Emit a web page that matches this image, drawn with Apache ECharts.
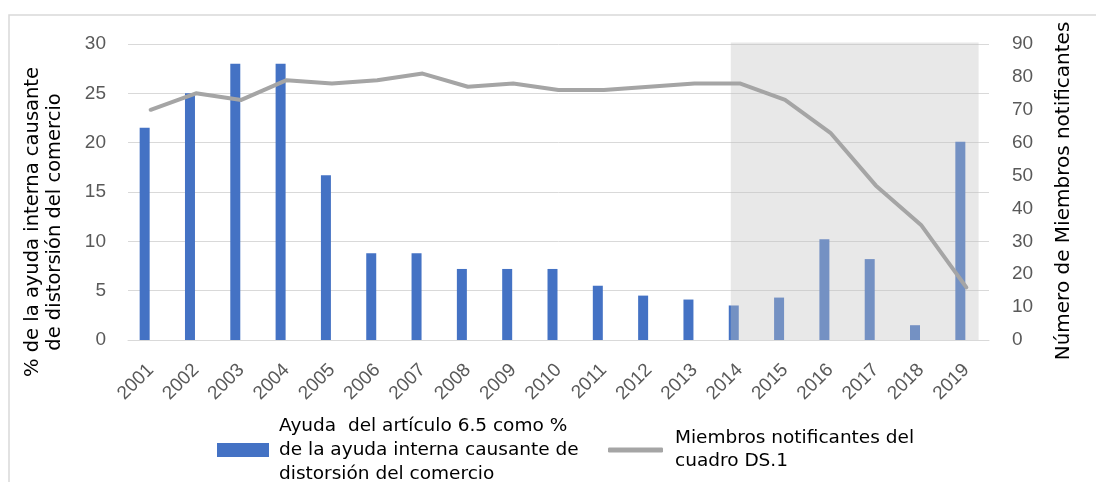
<!DOCTYPE html>
<html>
<head>
<meta charset="utf-8">
<script src="https://cdn.jsdelivr.net/npm/echarts@6/dist/echarts.min.js"></script>
<style>
  html, body { margin: 0; padding: 0; background: #ffffff; }
  #chart { width: 1096px; height: 482px; }
</style>
</head>
<body>
<div id="chart"></div>
<script>
// ---- data ----
const years = ['2001','2002','2003','2004','2005','2006','2007','2008','2009','2010',
               '2011','2012','2013','2014','2015','2016','2017','2018','2019'];
const ayudaPct = [21.5, 25, 28, 28, 16.7, 8.8, 8.8, 7.2, 7.2, 7.2,
                  5.5, 4.5, 4.1, 3.5, 4.3, 10.2, 8.2, 1.5, 20.1];
const miembros = [70, 75, 73, 79, 78, 79, 81, 77, 78, 76,
                  76, 77, 78, 78, 73, 63, 47, 35, 16];
const leftTicks = { min: 0, max: 30, interval: 5 };
const rightTicks = { min: 0, max: 90, interval: 10 };
const shadedFrom = '2014';
const shadedTo = '2019';
const barName = 'Ayuda  del artículo 6.5 como %\nde la ayuda interna causante de\ndistorsión del comercio';
const lineName = 'Miembros notificantes del\ncuadro DS.1';
const leftTitle = '% de la ayuda interna causante\nde distorsión del comercio';
const rightTitle = 'Número de Miembros notificantes';

// ---- chart ----
const chart = echarts.init(document.getElementById('chart'), null, { renderer: 'canvas' });
const tickFont = { color: '#595959', fontFamily: 'Liberation Sans', fontSize: 19 };
const titleFont = 'DejaVu Sans';

const option = {
  animation: false,
  backgroundColor: '#ffffff',
  grid: { left: 128, right: 107, top: 44, bottom: 142, containLabel: false },
  legend: [
    {
      data: [{ name: barName, icon: 'rect' }],
      left: 217, top: 406, padding: 0,
      itemWidth: 52, itemHeight: 14,
      selectedMode: false,
      textStyle: { fontFamily: titleFont, fontSize: 18.5, color: '#000000', lineHeight: 24, padding: [16, 0, 0, 5] }
    },
    {
      data: [{ name: lineName, icon: 'roundRect' }],
      left: 608, top: 427, padding: 0,
      itemWidth: 55, itemHeight: 5,
      selectedMode: false,
      textStyle: { fontFamily: titleFont, fontSize: 18.5, color: '#000000', lineHeight: 23, padding: [0, 0, 0, 7] }
    }
  ],
  xAxis: {
    type: 'category',
    data: years,
    boundaryGap: true,
    axisLine: { show: true, lineStyle: { color: '#D9D9D9', width: 1 } },
    axisTick: { show: false },
    axisLabel: Object.assign({ rotate: 45, margin: 27, interval: 0 }, tickFont),
    splitLine: { show: false }
  },
  yAxis: [
    {
      type: 'value',
      min: leftTicks.min, max: leftTicks.max, interval: leftTicks.interval,
      axisLine: { show: false }, axisTick: { show: false },
      axisLabel: Object.assign({ margin: 22 }, tickFont),
      splitLine: { show: true, lineStyle: { color: '#D9D9D9', width: 1 } }
    },
    {
      type: 'value',
      min: rightTicks.min, max: rightTicks.max, interval: rightTicks.interval,
      position: 'right',
      axisLine: { show: false }, axisTick: { show: false },
      axisLabel: Object.assign({ margin: 23 }, tickFont),
      splitLine: { show: false }
    }
  ],
  series: [
    {
      name: barName,
      type: 'bar',
      yAxisIndex: 0,
      data: ayudaPct,
      barWidth: 10,
      barGap: '20%',
      itemStyle: { color: '#4472C4' },
      z: 2
    },
    {
      // empty companion slot (keeps the bars shifted left of the category centre as in the original)
      name: '_slot',
      type: 'bar',
      yAxisIndex: 0,
      data: [],
      barWidth: 10,
      barGap: '20%',
      z: 2
    },
    {
      name: lineName,
      type: 'line',
      yAxisIndex: 1,
      data: miembros,
      symbol: 'none',
      showSymbol: false,
      lineStyle: { color: '#A5A5A5', width: 4, cap: 'round', join: 'round' },
      itemStyle: { color: '#A5A5A5' },
      z: 10
    }
  ],
  graphic: [
    {
      id: 'frame', type: 'rect', silent: true, z: 0,
      shape: { x: 9, y: 15, width: 1200, height: 600 },
      style: { fill: 'none', stroke: '#D9D9D9', lineWidth: 1.5 }
    },
    {
      id: 'leftTitle', type: 'text', silent: true,
      x: 44, y: 222, rotation: Math.PI / 2,
      style: {
        text: leftTitle, fontFamily: titleFont, fontSize: 19.5, lineHeight: 22,
        fill: '#000000', align: 'center', verticalAlign: 'middle'
      }
    },
    {
      id: 'rightTitle', type: 'text', silent: true,
      x: 1064, y: 191, rotation: Math.PI / 2,
      style: {
        text: rightTitle, fontFamily: titleFont, fontSize: 20,
        fill: '#000000', align: 'center', verticalAlign: 'middle'
      }
    }
  ]
};
chart.setOption(option);

// shaded (semi-transparent) region over the later years
const xa = chart.convertToPixel({ xAxisIndex: 0 }, shadedFrom);
const xb = chart.convertToPixel({ xAxisIndex: 0 }, shadedTo);
const yTop = chart.convertToPixel({ yAxisIndex: 0 }, leftTicks.max);
const yBot = chart.convertToPixel({ yAxisIndex: 0 }, leftTicks.min);
chart.setOption({
  graphic: [
    {
      id: 'shade', type: 'rect', silent: true, z: 5,
      shape: { x: xa - 9, y: yTop - 1.5, width: (xb + 12.3) - (xa - 9), height: yBot - yTop + 1.5 },
      style: { fill: 'rgba(195,195,195,0.385)' }
    }
  ]
});
</script>
</body>
</html>
